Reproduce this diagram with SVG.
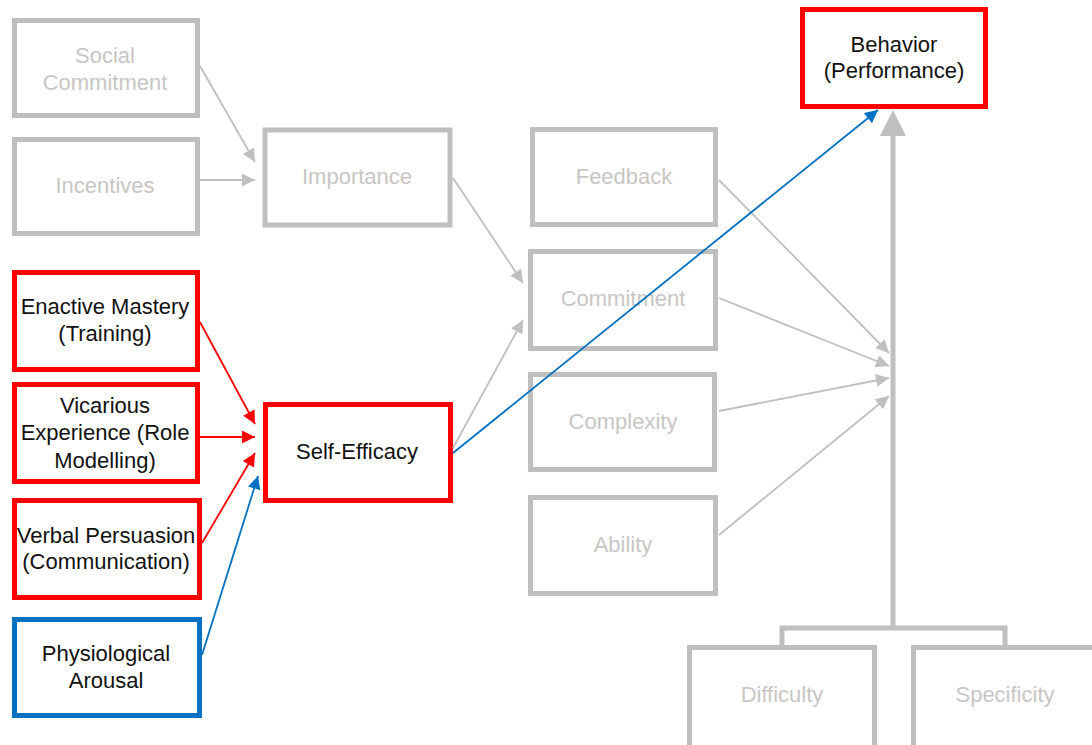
<svg xmlns="http://www.w3.org/2000/svg" width="1092" height="745" viewBox="0 0 1092 745">
<style>
.box{fill:none;stroke-width:5}
.g{stroke:#bfbfbf}
.r{stroke:#ff0000}
.b{stroke:#0070c0}
text{font-family:"Liberation Sans",Arial,sans-serif;font-size:22px;text-anchor:middle}
.tg{fill:#c8c6c4}
.tk{fill:#111}
.c{fill:none;stroke-width:1.8}
</style>
<defs>
<marker id="ag" viewBox="0 0 10 10" refX="10" refY="5" markerUnits="userSpaceOnUse" markerWidth="16" markerHeight="13" orient="auto"><path d="M0,0L10,5L0,10z" fill="#bfbfbf"/></marker>
<marker id="ar" viewBox="0 0 10 10" refX="10" refY="5" markerUnits="userSpaceOnUse" markerWidth="16" markerHeight="13" orient="auto"><path d="M0,0L10,5L0,10z" fill="#ff0000"/></marker>
<marker id="ab" viewBox="0 0 10 10" refX="10" refY="5" markerUnits="userSpaceOnUse" markerWidth="16" markerHeight="13" orient="auto"><path d="M0,0L10,5L0,10z" fill="#0070c0"/></marker>
</defs>
<rect width="1092" height="745" fill="#fff"/>
<g id="social-commitment"><rect class="box g" x="14.5" y="20.5" width="183" height="95"/><text class="tg" x="105" y="63">Social</text><text class="tg" x="105" y="90">Commitment</text></g>
<g id="incentives"><rect class="box g" x="14.5" y="139.5" width="183" height="94"/><text class="tg" x="105" y="193">Incentives</text></g>
<g id="importance"><rect class="box g" x="265" y="130" width="185" height="95"/><text class="tg" x="357" y="184">Importance</text></g>
<g id="enactive-mastery"><rect class="box r" x="14.5" y="272.5" width="183" height="97"/><text class="tk" x="105" y="314">Enactive Mastery</text><text class="tk" x="105" y="341">(Training)</text></g>
<g id="vicarious-experience"><rect class="box r" x="14.5" y="384.5" width="183" height="97"/><text class="tk" x="105" y="413">Vicarious</text><text class="tk" x="105" y="440">Experience (Role</text><text class="tk" x="105" y="468">Modelling)</text></g>
<g id="verbal-persuasion"><rect class="box r" x="14.5" y="500.5" width="185" height="97"/><text class="tk" x="106" y="543">Verbal Persuasion</text><text class="tk" x="106" y="569">(Communication)</text></g>
<g id="physiological-arousal"><rect class="box b" x="14.5" y="619.5" width="185" height="96"/><text class="tk" x="106" y="661">Physiological</text><text class="tk" x="106" y="688">Arousal</text></g>
<g id="self-efficacy"><rect class="box r" x="265.5" y="404.5" width="185" height="96"/><text class="tk" x="357" y="459">Self-Efficacy</text></g>
<g id="feedback"><rect class="box g" x="532.5" y="129.5" width="183" height="95"/><text class="tg" x="624" y="184">Feedback</text></g>
<g id="commitment"><rect class="box g" x="530.5" y="251.5" width="185" height="97"/><text class="tg" x="623" y="306">Commitment</text></g>
<g id="complexity"><rect class="box g" x="530.5" y="374.5" width="184" height="95"/><text class="tg" x="623" y="429">Complexity</text></g>
<g id="ability"><rect class="box g" x="530.5" y="497.5" width="185" height="96"/><text class="tg" x="623" y="552">Ability</text></g>
<g id="behavior"><rect class="box r" x="802.5" y="9.5" width="183" height="97"/><text class="tk" x="894" y="52">Behavior</text><text class="tk" x="894" y="78">(Performance)</text></g>
<g id="difficulty"><rect class="box g" x="689.5" y="647.5" width="185" height="105"/><text class="tg" x="782" y="702">Difficulty</text></g>
<g id="specificity"><rect class="box g" x="913.5" y="647.5" width="185" height="105"/><text class="tg" x="1005" y="702">Specificity</text></g>
<g id="connectors">
<line class="c g" x1="200" y1="66" x2="255" y2="162" marker-end="url(#ag)"/>
<line class="c g" x1="199" y1="180" x2="255" y2="180" marker-end="url(#ag)"/>
<line class="c g" x1="453" y1="178" x2="523" y2="283" marker-end="url(#ag)"/>
<line class="c g" x1="453" y1="448" x2="523" y2="320" marker-end="url(#ag)"/>
<line class="c g" x1="719" y1="180" x2="889" y2="353" marker-end="url(#ag)"/>
<line class="c g" x1="719" y1="298" x2="889" y2="366" marker-end="url(#ag)"/>
<line class="c g" x1="719" y1="411" x2="889" y2="378" marker-end="url(#ag)"/>
<line class="c g" x1="719" y1="535" x2="889" y2="396" marker-end="url(#ag)"/>
<line class="c r" x1="200" y1="322" x2="255" y2="424" marker-end="url(#ar)"/>
<line class="c r" x1="200" y1="437" x2="255" y2="437" marker-end="url(#ar)"/>
<line class="c r" x1="202" y1="543" x2="255" y2="453" marker-end="url(#ar)"/>
<line class="c b" x1="202" y1="655" x2="258" y2="476" marker-end="url(#ab)"/>
<line class="c b" x1="453" y1="453" x2="878" y2="110" marker-end="url(#ab)"/>
<line x1="893" y1="630" x2="893" y2="130" stroke="#bfbfbf" stroke-width="5"/>
<path d="M893,110L906,136L880,136z" fill="#bfbfbf"/>
<path d="M782,646V628H1005V646" fill="none" stroke="#bfbfbf" stroke-width="5"/>
</g>
</svg>
